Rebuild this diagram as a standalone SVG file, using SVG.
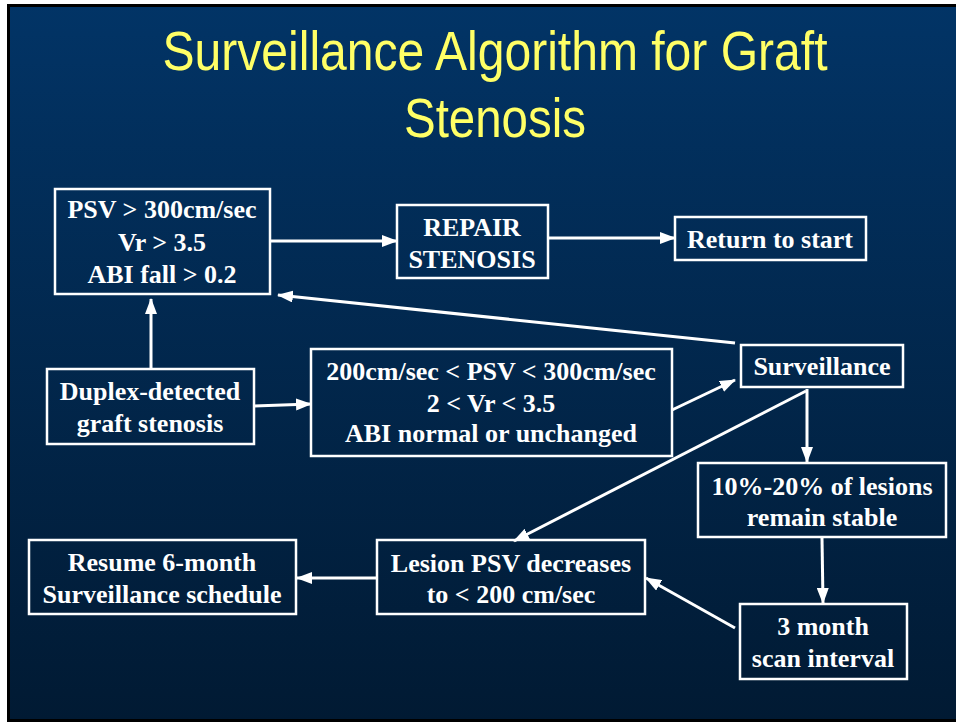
<svg xmlns="http://www.w3.org/2000/svg" width="956" height="723" viewBox="0 0 956 723">
<defs>
<linearGradient id="bg" x1="0" y1="0" x2="0" y2="1">
<stop offset="0" stop-color="#023466"/>
<stop offset="1" stop-color="#011a33"/>
</linearGradient>
<marker id="ah" markerUnits="userSpaceOnUse" markerWidth="16" markerHeight="12" refX="15" refY="6" orient="auto">
<path d="M0,0 L16,6 L0,12 z" fill="#ffffff"/>
</marker>
<style>
.box{fill:none;stroke:#ffffff;stroke-width:2.5}
.t{fill:#ffffff;font-family:"Liberation Serif","Times New Roman",serif;font-weight:bold;font-size:26px;text-anchor:middle}
.title{fill:#ffff66;font-family:"Liberation Sans",Arial,sans-serif;font-size:56px;text-anchor:middle}
.c{stroke:#ffffff;stroke-width:3;fill:none;marker-end:url(#ah)}
</style>
</defs>
<rect x="0" y="0" width="956" height="723" fill="#ffffff"/>
<rect x="8.5" y="5.5" width="960" height="715" fill="url(#bg)" stroke="#000000" stroke-width="3"/>
<g id="title">
<text class="title" x="495" y="70" textLength="665" lengthAdjust="spacingAndGlyphs">Surveillance Algorithm for Graft</text>
<text class="title" x="495" y="137" textLength="182" lengthAdjust="spacingAndGlyphs">Stenosis</text>
</g>
<g id="connectors">
<line class="c" x1="270" y1="241" x2="397" y2="241"/>
<line class="c" x1="548" y1="238" x2="675" y2="238"/>
<line class="c" x1="735" y1="343" x2="278" y2="295"/>
<line class="c" x1="151" y1="369" x2="151" y2="299"/>
<line class="c" x1="254" y1="406" x2="311" y2="404"/>
<line class="c" x1="672" y1="410" x2="735" y2="380"/>
<line class="c" x1="806" y1="391" x2="514" y2="541"/>
<line class="c" x1="807" y1="389" x2="807" y2="462"/>
<line class="c" x1="822" y1="538" x2="823" y2="603"/>
<line class="c" x1="735" y1="628" x2="646" y2="578"/>
<line class="c" x1="377" y1="578" x2="297" y2="578"/>
</g>
<g id="psv-high">
<rect class="box" x="55" y="189" width="215" height="105"/>
<text class="t" x="162" y="218">PSV &gt; 300cm/sec</text>
<text class="t" x="162" y="251">Vr &gt; 3.5</text>
<text class="t" x="162" y="283">ABI fall &gt; 0.2</text>
</g>
<g id="repair">
<rect class="box" x="397" y="205" width="151" height="73"/>
<text class="t" x="472" y="236">REPAIR</text>
<text class="t" x="472" y="268">STENOSIS</text>
</g>
<g id="return">
<rect class="box" x="675" y="217" width="191" height="43"/>
<text class="t" x="770" y="248">Return to start</text>
</g>
<g id="surveillance">
<rect class="box" x="741" y="345" width="162" height="42"/>
<text class="t" x="822" y="375">Surveillance</text>
</g>
<g id="duplex">
<rect class="box" x="47" y="369" width="207" height="75"/>
<text class="t" x="150" y="400">Duplex-detected</text>
<text class="t" x="150" y="432">graft stenosis</text>
</g>
<g id="psv-mid">
<rect class="box" x="311" y="349" width="361" height="107"/>
<text class="t" x="491" y="380">200cm/sec &lt; PSV &lt; 300cm/sec</text>
<text class="t" x="491" y="412">2 &lt; Vr &lt; 3.5</text>
<text class="t" x="491" y="442">ABI normal or unchanged</text>
</g>
<g id="stable">
<rect class="box" x="698" y="463" width="248" height="74"/>
<text class="t" x="822" y="495">10%-20% of lesions</text>
<text class="t" x="822" y="526">remain stable</text>
</g>
<g id="three-month">
<rect class="box" x="740" y="604" width="167" height="75"/>
<text class="t" x="823" y="635">3 month</text>
<text class="t" x="823" y="667">scan interval</text>
</g>
<g id="lesion">
<rect class="box" x="377" y="540" width="268" height="74"/>
<text class="t" x="511" y="572">Lesion PSV decreases</text>
<text class="t" x="511" y="603">to &lt; 200 cm/sec</text>
</g>
<g id="resume">
<rect class="box" x="29" y="540" width="267" height="74"/>
<text class="t" x="162" y="571">Resume 6-month</text>
<text class="t" x="162" y="603">Surveillance schedule</text>
</g>
</svg>
